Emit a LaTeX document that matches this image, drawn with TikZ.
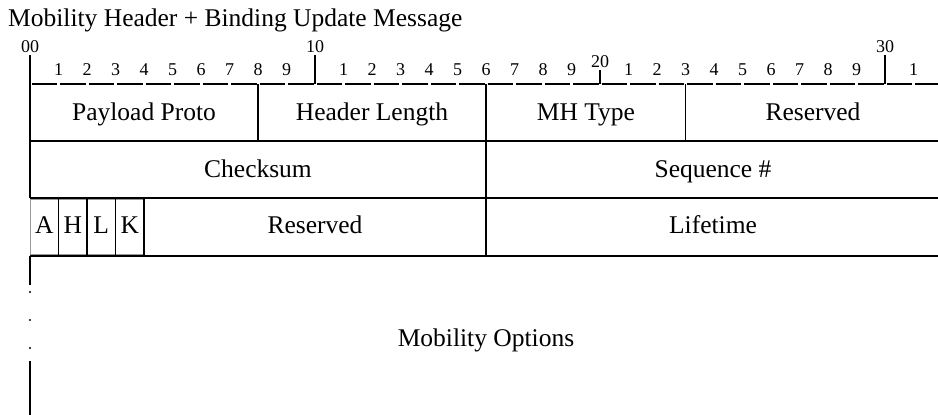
\documentclass[tikz,border=0pt]{standalone}
\usepackage{fontspec}
\setmainfont{Liberation Serif}
\usetikzlibrary{positioning}

\begin{document}
\begin{tikzpicture}[x=1pt, y=-1pt,
    field/.style={font=\fontsize{25.5}{30}\selectfont, anchor=base, inner sep=0pt},
    num/.style={font=\fontsize{18}{22}\selectfont, anchor=base, inner sep=0pt},
    rule/.style={line width=1.6pt},
    flagbox/.style={draw=black!40, line width=1pt}
]
\useasboundingbox (0,0) rectangle (938,415);

% title
\node[field, anchor=base west] (title) at (8,26) {Mobility Header + Binding Update Message};

% bit ruler
\node[num] (t00) at (30,52) {00};
\node[num] (t10) at (315,52) {10};
\node[num] (t20) at (600,67) {20};
\node[num] (t30) at (885,52) {30};
\foreach \k in {1,...,31} {
  \pgfmathtruncatemacro{\d}{mod(\k,10)}
  \ifnum\d>0 \node[num] (d\k) at (30+28.5*\k,75) {\d}; \fi
}
\foreach \k in {0,...,31}
  \draw[rule] (31.5+28.5*\k,84) -- (57+28.5*\k,84);
\draw[rule] (315,55) -- (315,84);
\draw[rule] (600,70) -- (600,84);
\draw[rule] (885,55) -- (885,84);

% rows
\draw[rule] (30,55) -- (30,198);
\draw[rule] (30,141) -- (938,141);
\draw[rule] (30,198) -- (938,198);
\draw[rule] (30,256) -- (938,256);
\draw[rule] (258,84) -- (258,141);
\draw[rule] (486,84) -- (486,256);
\draw[rule] (685.5,84) -- (685.5,141);

% flag bits
\draw[flagbox] (30,199.5) rectangle (144,254.5);
\foreach \x in {58.5,87,115.5,144}
  \draw[rule] (\x,198) -- (\x,256);

% options (open end)
\draw[rule] (30,256) -- (30,285);
\foreach \y in {292,320,348}
  \fill (30,\y) circle (1.1);
\draw[rule] (30,361) -- (30,415);

% field names
\node[field] (pp)  at (144,120) {Payload Proto};
\node[field] (hl)  at (372,120) {Header Length};
\node[field] (mht) at (586,120) {MH Type};
\node[field] (rs1) at (813,120) {Reserved};
\node[field] (ck)  at (258,177) {Checksum};
\node[field] (sq)  at (713,177) {Sequence \#};
\node[field] (fa)  at (44.25,233) {A};
\node[field] (fh)  at (72.75,233) {H};
\node[field] (fl)  at (101.25,233) {L};
\node[field] (fk)  at (129.75,233) {K};
\node[field] (rs2) at (315,233) {Reserved};
\node[field] (lt)  at (713,233) {Lifetime};
\node[field] (mo)  at (486,346) {Mobility Options};
\end{tikzpicture}
\end{document}
